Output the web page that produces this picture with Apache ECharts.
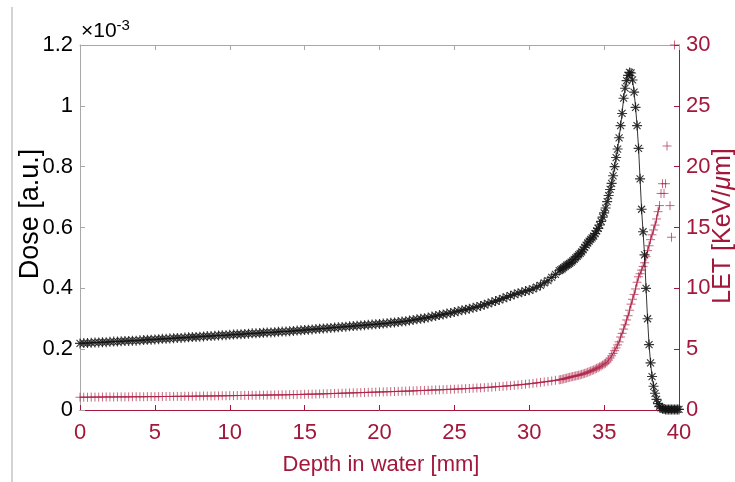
<!DOCTYPE html>
<html>
<head>
<meta charset="utf-8">
<script src="https://cdn.jsdelivr.net/npm/echarts@6/dist/echarts.min.js"></script>
<style>html,body{margin:0;padding:0;background:#fff;}#c{width:735px;height:482px;}</style>
</head>
<body>
<div id="c"></div>
<script>
// Depth in water [mm]
const depth = [
0,0.25,0.5,0.75,1,1.25,1.5,1.75,2,2.25,2.5,2.75,3,3.25,3.5,3.75,4,4.25,4.5,4.75,
5,5.25,5.5,5.75,6,6.25,6.5,6.75,7,7.25,7.5,7.75,8,8.25,8.5,8.75,9,9.25,9.5,9.75,
10,10.25,10.5,10.75,11,11.25,11.5,11.75,12,12.25,12.5,12.75,13,13.25,13.5,13.75,14,14.25,14.5,14.75,
15,15.25,15.5,15.75,16,16.25,16.5,16.75,17,17.25,17.5,17.75,18,18.25,18.5,18.75,19,19.25,19.5,19.75,
20,20.25,20.5,20.75,21,21.25,21.5,21.75,22,22.25,22.5,22.75,23,23.25,23.5,23.75,24,24.25,24.5,24.75,
25,25.25,25.5,25.75,26,26.25,26.5,26.75,27,27.25,27.5,27.75,28,28.25,28.5,28.75,29,29.25,29.5,29.75,
30,30.25,30.5,30.75,31,31.25,31.5,31.75,32,
32.1,32.2,32.3,32.4,32.5,32.6,32.7,32.8,32.9,
33,33.1,33.2,33.3,33.4,33.5,33.6,33.7,33.8,33.9,
34,34.1,34.2,34.3,34.4,34.5,34.6,34.7,34.8,34.9,
35,35.1,35.2,35.3,35.4,35.5,35.6,35.7,35.8,35.9,
36,36.1,36.2,36.3,36.4,36.5,36.6,36.7,36.8,36.9,
37,37.1,37.2,37.3,37.4,37.5,37.6,37.7,37.8,37.9,
38,38.1,38.2,38.3,38.4,38.5,38.6,38.7,38.8,38.9,
39,39.1,39.2,39.3,39.4,39.5,39.6,39.7,39.8,39.9,
40
];
// Dose [a.u.] in units of 1e-3
const dose = [
.219,.220,.220,.221,.222,.222,.223,.223,.224,.225,.225,.226,.227,.227,.228,.228,.229,.230,.231,.231,
.232,.233,.234,.234,.235,.236,.237,.237,.238,.239,.240,.240,.241,.242,.243,.243,.244,.245,.246,.246,
.247,.248,.249,.249,.250,.251,.252,.252,.253,.254,.255,.255,.256,.257,.258,.258,.259,.260,.261,.262,
.263,.264,.265,.266,.267,.268,.269,.270,.271,.272,.273,.274,.275,.276,.277,.278,.279,.280,.281,.282,
.283,.284,.285,.287,.288,.289,.291,.292,.294,.296,.298,.300,.302,.304,.307,.309,.312,.314,.317,.319,
.322,.325,.328,.330,.333,.336,.339,.342,.346,.350,.354,.358,.362,.367,.371,.376,.380,.384,.387,.391,
.394,.398,.404,.410,.418,.425,.436,.446,.458,
.461,.464,.468,.472,.476,.479,.482,.486,.490,
.495,.500,.505,.510,.515,.520,.527,.535,.542,.549,
.555,.561,.566,.572,.580,.589,.597,.608,.620,.634,
.648,.664,.685,.705,.725,.745,.770,.800,.830,.858,
.895,.935,.975,1.025,1.058,1.083,1.100,1.110,1.108,1.085,
1.045,.995,.935,.860,.760,.660,.586,.510,.400,.300,
.215,.155,.110,.078,.055,.035,.021,.012,.007,.004,
.003,.002,.002,.002,.002,.002,.002,.002,.002,.002,
.002
];
// LET [KeV/um]
const let_ = [
1.05,1.05,1.05,1.06,1.06,1.06,1.07,1.07,1.07,1.07,1.08,1.08,1.08,1.08,1.09,1.09,1.09,1.09,1.10,1.10,
1.10,1.10,1.11,1.11,1.11,1.12,1.12,1.12,1.13,1.13,1.13,1.14,1.14,1.15,1.15,1.15,1.16,1.16,1.17,1.17,
1.18,1.18,1.19,1.19,1.20,1.20,1.21,1.21,1.22,1.22,1.23,1.23,1.24,1.24,1.25,1.25,1.26,1.27,1.27,1.28,
1.29,1.30,1.30,1.31,1.32,1.33,1.34,1.35,1.36,1.37,1.38,1.39,1.40,1.41,1.42,1.43,1.44,1.45,1.46,1.47,
1.48,1.49,1.50,1.51,1.52,1.53,1.54,1.55,1.56,1.57,1.59,1.60,1.61,1.62,1.64,1.65,1.66,1.67,1.69,1.70,
1.71,1.73,1.74,1.76,1.77,1.79,1.81,1.82,1.84,1.86,1.88,1.91,1.93,1.95,1.98,2.00,2.03,2.06,2.09,2.12,
2.16,2.19,2.23,2.27,2.31,2.35,2.39,2.44,2.48,
2.50,2.53,2.56,2.59,2.62,2.66,2.69,2.72,2.75,
2.78,2.80,2.83,2.86,2.89,2.93,2.97,3.01,3.05,3.10,
3.15,3.20,3.25,3.30,3.36,3.42,3.48,3.55,3.62,3.70,
3.78,3.85,3.95,4.10,4.27,4.45,4.65,4.88,5.10,5.35,
5.60,6.00,6.30,6.65,7.00,7.40,7.75,8.20,8.70,9.10,
9.50,9.95,10.50,10.95,11.20,11.50,11.80,12.10,12.60,13.10,
13.50,14.00,14.40,14.80,15.20,15.70,16.30,16.80,17.80,18.60,
17.80,18.60,21.70,null,16.80,14.20,null,30.00,null,null,
null
];
const doseTicks = ['0','0.2','0.4','0.6','0.8','1','1.2'];
const letLineEnd = 38.7; // LET line drawn up to this depth; beyond, only markers

const RED = '#a3173b';
const GRAY = '#a8a8a8';
const FONT = '"Liberation Sans", Arial, Helvetica, sans-serif';

const doseData = depth.map((d, i) => [d, dose[i]]);
const letMarkers = depth.map((d, i) => [d, let_[i]]).filter(p => p[1] !== null);
const letLine = letMarkers.filter(p => p[0] <= letLineEnd);

const STAR = 'path://M5 0 L5 10 M0 5 L10 5 M1.5 1.5 L8.5 8.5 M1.5 8.5 L8.5 1.5';
const PLUS = 'path://M5 0 L5 10 M0 5 L10 5';

const chart = echarts.init(document.getElementById('c'), null, {renderer: 'canvas'});
chart.setOption({
  animation: false,
  backgroundColor: '#fff',
  grid: {left: 80, right: 56, top: 45, bottom: 72, containLabel: false, outerBoundsMode: 'none'},
  xAxis: [{
    type: 'value', min: 0, max: 40, interval: 5, position: 'bottom',
    axisLine: {show: true, onZero: false, lineStyle: {color: RED, width: 1}},
    axisTick: {show: true, inside: true, length: 5, lineStyle: {color: RED}},
    axisLabel: {color: RED, fontSize: 22, fontFamily: FONT, margin: 12},
    splitLine: {show: false}
  }, {
    type: 'value', min: 0, max: 40, interval: 5, position: 'top',
    axisLine: {show: true, onZero: false, lineStyle: {color: GRAY, width: 1}},
    axisTick: {show: true, inside: true, length: 5, lineStyle: {color: GRAY}},
    axisLabel: {show: false},
    splitLine: {show: false}
  }],
  yAxis: [{
    type: 'value', min: 0, max: 1.2, interval: 0.2, position: 'left',
    axisLine: {show: true, onZero: false, lineStyle: {color: GRAY, width: 1}},
    axisTick: {show: true, inside: true, length: 5, lineStyle: {color: GRAY}},
    axisLabel: {color: '#000', fontSize: 22, fontFamily: FONT, margin: 7,
      formatter: (v) => doseTicks[Math.round(v / 0.2)]},
    splitLine: {show: false}
  }, {
    type: 'value', min: 0, max: 30, interval: 5, position: 'right',
    axisLine: {show: true, onZero: false, lineStyle: {color: RED, width: 1}},
    axisTick: {show: true, inside: true, length: 5, lineStyle: {color: RED}},
    axisLabel: {color: RED, fontSize: 22, fontFamily: FONT, margin: 7},
    splitLine: {show: false}
  }],
  graphic: [
    {type: 'line', shape: {x1: 12, y1: 7, x2: 12, y2: 482}, style: {stroke: '#c4c4c4', lineWidth: 1.5}, silent: true},
    {type: 'text', x: 81, y: 18, style: {
      text: '×10{s|-3}', fill: '#000', font: '21px ' + FONT,
      rich: {s: {fontSize: 15, fontFamily: FONT, fill: '#000', verticalAlign: 'top', padding: [0, 0, 12, 0]}}
    }},
    {type: 'text', x: 31, y: 214, rotation: Math.PI / 2, style: {
      text: 'Dose [a.u.]', fill: '#000', font: '27px ' + FONT, align: 'center', verticalAlign: 'middle'
    }},
    {type: 'text', x: 723, y: 226, rotation: Math.PI / 2, style: {
      text: 'LET [KeV/{i|μ}m]', fill: RED, font: '25px ' + FONT, align: 'center', verticalAlign: 'middle',
      rich: {i: {fontStyle: 'italic', fill: RED, fontSize: 25, fontFamily: FONT}}
    }},
    {type: 'text', x: 381, y: 465, style: {
      text: 'Depth in water [mm]', fill: RED, font: '22px ' + FONT, align: 'center', verticalAlign: 'middle'
    }}
  ],
  series: [{
    name: 'LET line', type: 'line', xAxisIndex: 0, yAxisIndex: 1,
    data: letLine, showSymbol: false, lineStyle: {color: RED, width: 1}, z: 2
  }, {
    name: 'LET', type: 'line', xAxisIndex: 0, yAxisIndex: 1,
    data: letMarkers, symbol: PLUS, symbolSize: 9, showAllSymbol: true, clip: false,
    lineStyle: {opacity: 0, width: 0},
    itemStyle: {color: 'none', borderColor: 'rgba(175,40,75,0.7)', borderWidth: 1}, z: 3
  }, {
    name: 'Dose', type: 'line', xAxisIndex: 0, yAxisIndex: 0,
    data: doseData, symbol: STAR, symbolSize: 10, showAllSymbol: true,
    lineStyle: {color: '#000', width: 0.8},
    itemStyle: {color: 'none', borderColor: 'rgba(20,20,20,0.85)', borderWidth: 1.1}, z: 4
  }]
});
</script>
</body>
</html>
